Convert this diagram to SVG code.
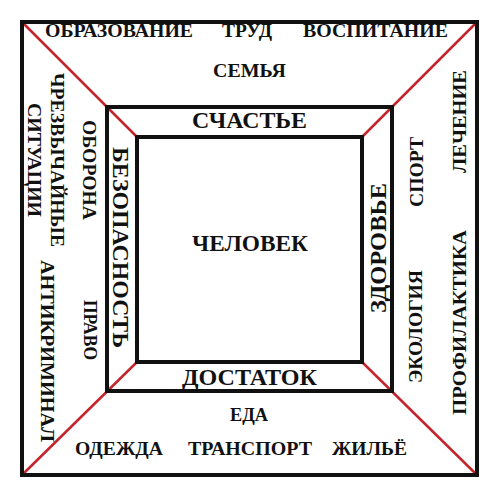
<svg xmlns="http://www.w3.org/2000/svg" width="500" height="500" viewBox="0 0 500 500">
<style>
.box{fill:none;stroke:#111;stroke-width:4}
.diag{stroke:#c4252c;stroke-width:2.5;fill:none}
text{font-family:"Liberation Serif","Times New Roman",serif;font-weight:bold;fill:#111;text-anchor:middle}
.s{font-size:18px}
.l{font-size:23px}
</style>
<rect width="500" height="500" fill="#fff"/>
<g id="connectors">
<line class="diag" x1="22" y1="22" x2="137" y2="137"/>
<line class="diag" x1="477" y1="22" x2="362" y2="137"/>
<line class="diag" x1="22" y1="475" x2="137" y2="362"/>
<line class="diag" x1="477" y1="475" x2="362" y2="362"/>
</g>
<g id="outer">
<rect class="box" x="22" y="22" width="455" height="453"/>
<text class="s" x="119" y="37" textLength="148" lengthAdjust="spacingAndGlyphs">ОБРАЗОВАНИЕ</text>
<text class="s" x="247" y="37" textLength="50" lengthAdjust="spacingAndGlyphs">ТРУД</text>
<text class="s" x="375.5" y="37" textLength="145" lengthAdjust="spacingAndGlyphs">ВОСПИТАНИЕ</text>
<text class="s" x="249.5" y="77" textLength="73" lengthAdjust="spacingAndGlyphs">СЕМЬЯ</text>
<text class="s" x="249" y="421" textLength="38" lengthAdjust="spacingAndGlyphs">ЕДА</text>
<text class="s" x="119" y="455" textLength="88" lengthAdjust="spacingAndGlyphs">ОДЕЖДА</text>
<text class="s" x="250" y="455" textLength="124" lengthAdjust="spacingAndGlyphs">ТРАНСПОРТ</text>
<text class="s" x="369.5" y="455" textLength="75" lengthAdjust="spacingAndGlyphs">ЖИЛЬЁ</text>
<text class="s" transform="translate(89,170) rotate(90)" y="6" textLength="100" lengthAdjust="spacingAndGlyphs">ОБОРОНА</text>
<text class="s" transform="translate(57,160) rotate(90)" y="6" textLength="174" lengthAdjust="spacingAndGlyphs">ЧРЕЗВЫЧАЙНЫЕ</text>
<text class="s" transform="translate(34,160) rotate(90)" y="6" textLength="114" lengthAdjust="spacingAndGlyphs">СИТУАЦИИ</text>
<text class="s" transform="translate(90,330) rotate(90)" y="6" textLength="60" lengthAdjust="spacingAndGlyphs">ПРАВО</text>
<text class="s" transform="translate(47,351) rotate(90)" y="6" textLength="182" lengthAdjust="spacingAndGlyphs">АНТИКРИМИНАЛ</text>
<text class="s" transform="translate(417,172) rotate(-90)" y="6" textLength="70" lengthAdjust="spacingAndGlyphs">СПОРТ</text>
<text class="s" transform="translate(416,326.5) rotate(-90)" y="6" textLength="113" lengthAdjust="spacingAndGlyphs">ЭКОЛОГИЯ</text>
<text class="s" transform="translate(460,121.5) rotate(-90)" y="6" textLength="103" lengthAdjust="spacingAndGlyphs">ЛЕЧЕНИЕ</text>
<text class="s" transform="translate(460,322.5) rotate(-90)" y="6" textLength="185" lengthAdjust="spacingAndGlyphs">ПРОФИЛАКТИКА</text>
</g>
<g id="middle">
<rect class="box" x="107" y="107" width="285" height="284"/>
<text class="l" x="249.5" y="128" textLength="115" lengthAdjust="spacingAndGlyphs">СЧАСТЬЕ</text>
<text class="l" x="249.5" y="385" textLength="135" lengthAdjust="spacingAndGlyphs">ДОСТАТОК</text>
<text class="l" transform="translate(121,247.5) rotate(90)" y="7.6" textLength="201" lengthAdjust="spacingAndGlyphs">БЕЗОПАСНОСТЬ</text>
<text class="l" transform="translate(378,248) rotate(-90)" y="7.6" textLength="130" lengthAdjust="spacingAndGlyphs">ЗДОРОВЬЕ</text>
</g>
<g id="inner">
<rect class="box" x="137" y="137" width="225" height="225"/>
<text class="l" x="250" y="251" textLength="116" lengthAdjust="spacingAndGlyphs">ЧЕЛОВЕК</text>
</g>
</svg>
